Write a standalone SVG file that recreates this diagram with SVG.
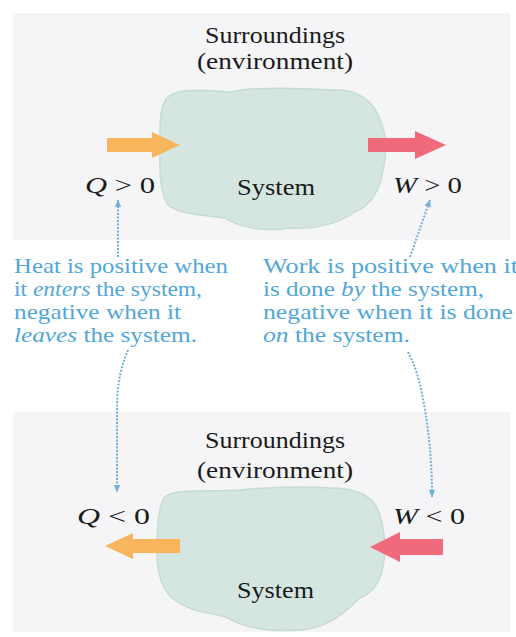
<svg xmlns="http://www.w3.org/2000/svg" width="516" height="637" viewBox="0 0 516 637">
<defs>
<style>
.bg{fill:#f5f5f7}
.cloud{fill:#d5e6e0;stroke:#c6dbd3;stroke-width:1.5}
.lbl{font-family:"Liberation Serif","Times New Roman",serif;font-size:24px;fill:#1a1a1a}
.math{font-family:"Liberation Serif","Times New Roman",serif;font-size:24px;fill:#1a1a1a}
.note{font-family:"Liberation Serif","Times New Roman",serif;font-size:21px;fill:#52a7d8}
.it{font-style:italic}
.conn{fill:none;stroke:#72b1d8;stroke-width:2;stroke-dasharray:2 1.5}
.heat{fill:#f9b55c}
.work{fill:#f06a7c}
</style>
<marker id="ah" viewBox="0 0 10 10" refX="9" refY="5" markerWidth="4" markerHeight="4" orient="auto">
<path d="M0,1 L10,5 L0,9 Z" fill="#72b1d8"/>
</marker>
</defs>
<rect width="516" height="637" fill="#ffffff"/>
<g id="panel-top">
<rect class="bg" x="13" y="13" width="497" height="227"/>
<path class="cloud" d="M168,97 C178,88 200,90 230,92 C260,86 300,88 330,90 C355,88 372,100 378,115 C386,130 388,150 383,170 C380,190 372,205 355,212 C340,222 320,230 290,228 C265,232 240,228 225,218 C205,215 180,215 168,205 C158,190 160,160 160,140 C160,120 160,105 168,97 Z"/>
<text class="lbl" x="205" y="43" textLength="140" lengthAdjust="spacingAndGlyphs">Surroundings</text>
<text class="lbl" x="197" y="69" textLength="156" lengthAdjust="spacingAndGlyphs">(environment)</text>
<text class="lbl" x="237" y="195" textLength="78" lengthAdjust="spacingAndGlyphs">System</text>
</g>
<g id="heat-in">
<path class="heat" d="M107,138 L152,138 L152,132 L180,145 L152,158 L152,152 L107,152 Z"/>
<text class="math" x="85" y="193" textLength="70" lengthAdjust="spacingAndGlyphs"><tspan class="it">Q</tspan> &gt; 0</text>
</g>
<g id="work-out">
<path class="work" d="M368,138 L415,138 L415,131 L446,145 L415,159 L415,152 L368,152 Z"/>
<text class="math" x="393" y="193" textLength="69" lengthAdjust="spacingAndGlyphs"><tspan class="it">W</tspan> &gt; 0</text>
</g>
<g id="note-heat">
<text class="note" x="14" y="273" textLength="214" lengthAdjust="spacingAndGlyphs">Heat is positive when</text>
<text class="note" x="14" y="296" textLength="188" lengthAdjust="spacingAndGlyphs">it <tspan class="it">enters</tspan> the system,</text>
<text class="note" x="14" y="319" textLength="167" lengthAdjust="spacingAndGlyphs">negative when it</text>
<text class="note" x="14" y="342" textLength="183" lengthAdjust="spacingAndGlyphs"><tspan class="it">leaves</tspan> the system.</text>
</g>
<g id="note-work">
<text class="note" x="263" y="273" textLength="255" lengthAdjust="spacingAndGlyphs">Work is positive when it</text>
<text class="note" x="263" y="296" textLength="221" lengthAdjust="spacingAndGlyphs">is done <tspan class="it">by</tspan> the system,</text>
<text class="note" x="263" y="319" textLength="250" lengthAdjust="spacingAndGlyphs">negative when it is done</text>
<text class="note" x="263" y="342" textLength="147" lengthAdjust="spacingAndGlyphs"><tspan class="it">on</tspan> the system.</text>
</g>
<g id="panel-bottom">
<rect class="bg" x="13" y="412" width="497" height="220"/>
<path class="cloud" d="M165,497 C175,488 210,492 240,490 C270,487 300,486 330,488 C355,488 372,495 378,510 C384,525 386,545 384,560 C382,578 375,592 360,598 C345,612 330,628 300,630 C270,632 245,628 228,618 C210,612 190,612 175,600 C160,590 157,570 157,550 C157,530 158,505 165,497 Z"/>
<text class="lbl" x="205" y="448" textLength="140" lengthAdjust="spacingAndGlyphs">Surroundings</text>
<text class="lbl" x="197" y="478" textLength="156" lengthAdjust="spacingAndGlyphs">(environment)</text>
<text class="lbl" x="237" y="598" textLength="77" lengthAdjust="spacingAndGlyphs">System</text>
</g>
<g id="heat-out">
<path class="heat" d="M180,539 L133,539 L133,533 L105,546 L133,559 L133,553 L180,553 Z"/>
<text class="math" x="77" y="524" textLength="73" lengthAdjust="spacingAndGlyphs"><tspan class="it">Q</tspan> &lt; 0</text>
</g>
<g id="work-in">
<path class="work" d="M443,539 L400,539 L400,532 L370,547 L400,562 L400,555 L443,555 Z"/>
<text class="math" x="393" y="524" textLength="72" lengthAdjust="spacingAndGlyphs"><tspan class="it">W</tspan> &lt; 0</text>
</g>
<g id="connectors">
<path class="conn" d="M118,257 L118,200" marker-end="url(#ah)"/>
<path class="conn" d="M410,257 L430,200" marker-end="url(#ah)"/>
<path class="conn" d="M128,350 C122,365 117,380 117,410 L117,492" marker-end="url(#ah)"/>
<path class="conn" d="M408,352 C415,365 420,380 425,410 C430,440 432,470 432,497" marker-end="url(#ah)"/>
</g>
</svg>
